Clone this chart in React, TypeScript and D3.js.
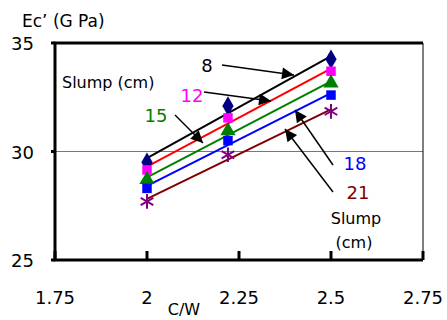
import React, { useEffect, useRef } from "react";
import * as d3 from "d3";

// C/W ratio of the three mixes
const cw = [2.0, 2.22, 2.5];
// slump groups (cm)
const slumps = ["8", "12", "15", "18", "21"];
const ec8 = [29.5, 32.1, 34.25];
const ec12 = [29.15, 31.55, 33.7];
const ec15 = [28.7, 30.95, 33.15];
const ec18 = [28.3, 30.5, 32.6];
const ec21 = [27.7, 29.85, 31.85];
const xTicks = [1.75, 2, 2.25, 2.5, 2.75];
const yTicks = [25, 30, 35];

const lineColors = ["#000000", "#ff0000", "#008000", "#0000ff", "#800000"];
const markColors = ["#000080", "#ff00ff", "#008000", "#0000ff", "#800080"];
const labelColors = ["#000000", "#ff00ff", "#008000", "#0000ff", "#800000"];
const markShapes = [d3.symbolDiamond, d3.symbolSquare, d3.symbolTriangle, d3.symbolSquare, d3.symbolAsterisk];

const Chart: React.FC = () => {
  const ref = useRef<SVGSVGElement>(null);

  useEffect(() => {
    const series = [ec8, ec12, ec15, ec18, ec21];
    const W = 447, H = 320;
    const margin = { top: 43, right: 24, bottom: 60, left: 55 };
    const width = W - margin.left - margin.right;
    const height = H - margin.top - margin.bottom;
    const font = "'DejaVu Sans', 'Noto Sans', sans-serif";

    const root = d3.select(ref.current);
    root.selectAll("*").remove();

    const defs = root.append("defs");
    defs.append("marker")
      .attr("id", "arr")
      .attr("viewBox", "0 0 10 10")
      .attr("refX", 10).attr("refY", 5)
      .attr("markerWidth", 16).attr("markerHeight", 12)
      .attr("markerUnits", "userSpaceOnUse")
      .attr("orient", "auto")
      .append("path").attr("d", "M0,0L10,5L0,10Z").attr("fill", "#000");

    const svg = root.append("g").attr("transform", `translate(${margin.left},${margin.top})`);

    const x = d3.scaleLinear().domain([1.75, 2.75]).range([0, width]);
    const y = d3.scaleLinear().domain([25, 35]).range([height, 0]);

    // gridline at 30
    svg.append("line")
      .attr("x1", 0).attr("x2", width)
      .attr("y1", y(30)).attr("y2", y(30))
      .attr("stroke", "#777").attr("stroke-width", 1.2);

    // frame: thick top/left/bottom, thin right
    svg.append("line").attr("x1", width).attr("x2", width).attr("y1", 0).attr("y2", height)
      .attr("stroke", "#000").attr("stroke-width", 1);
    svg.append("path")
      .attr("d", `M${width},0H0V${height}H${width}`)
      .attr("fill", "none").attr("stroke", "#000").attr("stroke-width", 3);

    // x ticks (inside)
    svg.selectAll(".xt").data(xTicks).enter().append("line")
      .attr("x1", d => x(d)).attr("x2", d => x(d))
      .attr("y1", height).attr("y2", height - 9)
      .attr("stroke", "#000").attr("stroke-width", 3);

    svg.selectAll(".xl").data(xTicks).enter().append("text")
      .attr("x", d => x(d)).attr("y", height + 44)
      .attr("text-anchor", "middle")
      .attr("font-family", font).attr("font-size", 18)
      .text(d => String(d));

    svg.selectAll(".yl").data(yTicks).enter().append("text")
      .attr("x", -21).attr("y", d => y(d) + 7)
      .attr("text-anchor", "end")
      .attr("font-family", font).attr("font-size", 18)
      .text(d => String(d));

    svg.selectAll(".ytk").data(yTicks).enter().append("line")
      .attr("x1", -4).attr("x2", 0)
      .attr("y1", d => y(d)).attr("y2", d => y(d))
      .attr("stroke", "#000").attr("stroke-width", 3);

    // regression lines
    const xm = d3.mean(cw) as number;
    series.forEach((vals, i) => {
      const ym = d3.mean(vals) as number;
      const sxy = d3.sum(cw, (c, k) => (c - xm) * (vals[k] - ym));
      const sxx = d3.sum(cw, c => (c - xm) ** 2);
      const b = sxy / sxx;
      const a = ym - b * xm;
      const ends = [cw[0], cw[cw.length - 1]];
      svg.append("path")
        .datum(ends)
        .attr("d", d3.line<number>().x(c => x(c)).y(c => y(a + b * c)))
        .attr("fill", "none")
        .attr("stroke", lineColors[i]).attr("stroke-width", 2);
    });

    // markers
    series.forEach((vals, i) => {
      const isStar = markShapes[i] === d3.symbolAsterisk;
      const size = isStar ? 150 : markShapes[i] === d3.symbolTriangle ? 100 : markShapes[i] === d3.symbolDiamond ? 110 : 90;
      svg.selectAll(`.m${i}`).data(vals).enter().append("path")
        .attr("transform", (v, k) => `translate(${x(cw[k])},${y(v)})`)
        .attr("d", d3.symbol().type(markShapes[i]).size(size)())
        .attr("fill", isStar ? "none" : markColors[i])
        .attr("stroke", isStar ? markColors[i] : "none")
        .attr("stroke-width", 2);
    });

    // annotation texts (absolute page coords)
    const g = root.append("g").attr("font-family", font);
    g.append("text").attr("x", 22).attr("y", 27).attr("font-size", 17).text("Ec’ (G Pa)");
    g.append("text").attr("x", 62).attr("y", 88).attr("font-size", 16).text("Slump (cm)");
    g.append("text").attr("x", 356).attr("y", 224).attr("font-size", 16).attr("text-anchor", "middle").text("Slump");
    g.append("text").attr("x", 354).attr("y", 248).attr("font-size", 16).attr("text-anchor", "middle").text("(cm)");
    g.append("text").attr("x", 184).attr("y", 315).attr("font-size", 16).attr("text-anchor", "middle").text("C/W");

    const labels = [
      { t: slumps[0], tx: 207, ty: 72, x1: 222, y1: 65, x2: 294, y2: 75 },
      { t: slumps[1], tx: 192, ty: 102, x1: 204, y1: 92, x2: 271, y2: 101 },
      { t: slumps[2], tx: 156, ty: 122, x1: 175, y1: 115, x2: 203, y2: 143 },
      { t: slumps[3], tx: 355, ty: 170, x1: 333, y1: 165, x2: 295, y2: 110 },
      { t: slumps[4], tx: 358, ty: 199, x1: 333, y1: 192, x2: 285, y2: 129 },
    ];
    labels.forEach((l, i) => {
      g.append("text").attr("x", l.tx).attr("y", l.ty)
        .attr("font-size", 18).attr("text-anchor", "middle")
        .attr("fill", labelColors[i])
        .text(l.t);
      g.append("line")
        .attr("x1", l.x1).attr("y1", l.y1).attr("x2", l.x2).attr("y2", l.y2)
        .attr("stroke", "#000").attr("stroke-width", 1.5)
        .attr("marker-end", "url(#arr)");
    });
  }, []);

  return (
    <svg ref={ref} width={447} height={320}
      style={{ position: "absolute", left: 0, top: 0, background: "#fff" }} />
  );
};

export default function App() {
  return <Chart />;
}
